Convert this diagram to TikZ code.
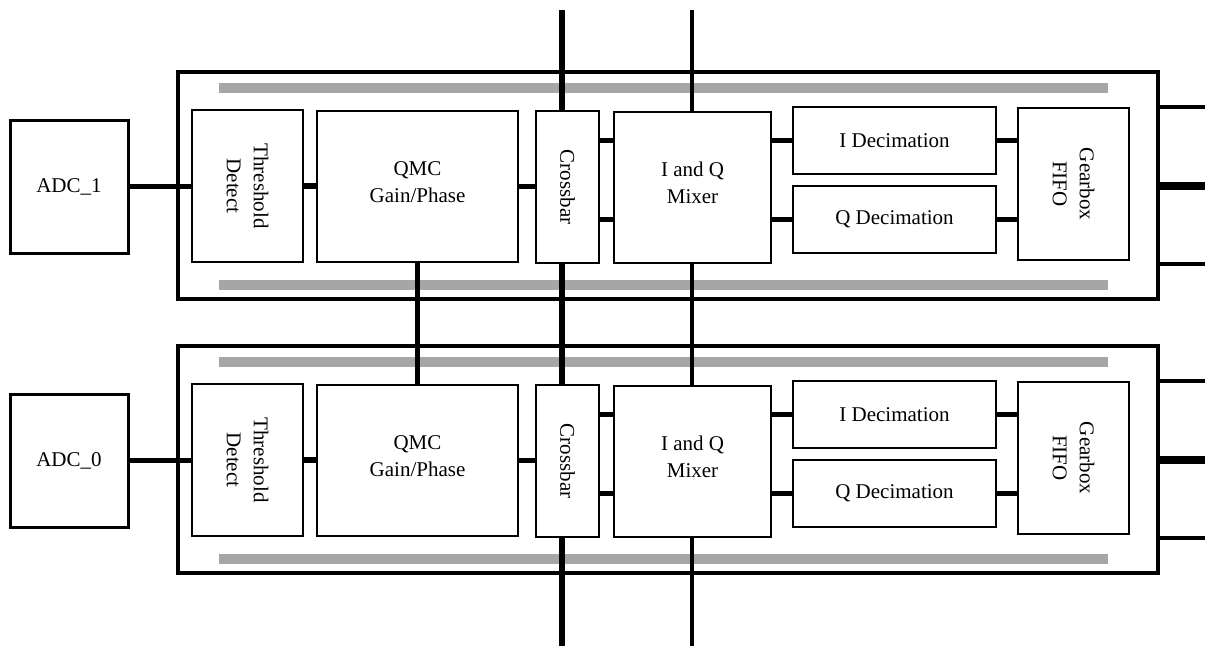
\documentclass[tikz,border=0pt]{standalone}
\usepackage{fontspec}
\setmainfont{Liberation Serif}
\definecolor{barcol}{RGB}{166,166,166}
\begin{document}
\begin{tikzpicture}[x=1pt,y=-1pt,
  blk/.style={draw, line width=2pt, fill=white, align=center, inner sep=0pt,
    font=\fontsize{21}{26}\selectfont},
  adcbox/.style={blk, line width=3pt},
  lbl/.style={font=\fontsize{21}{27}\selectfont, align=center, inner sep=0pt},
  outerbox/.style={draw, line width=3.5pt, inner sep=0pt},
  wire/.style={line width=5.5pt},
  midwire/.style={line width=4.5pt},
  thinout/.style={line width=3.5pt},
  thickout/.style={line width=8pt},
  bar/.style={line width=10pt, draw=barcol},
  vwide/.style={line width=6pt},
  vthin/.style={line width=4pt},
]
\useasboundingbox (0,0) rectangle (1205,646);
% grey bars
\foreach \i/\dy in {1/0, 0/274} {
  \begin{scope}[shift={(0,\dy)}]
    \coordinate (bta\i) at (219,88);   \coordinate (btb\i) at (1108,88);
    \coordinate (bba\i) at (219,285);  \coordinate (bbb\i) at (1108,285);
    \draw[bar] (bta\i) -- (btb\i);
    \draw[bar] (bba\i) -- (bbb\i);
  \end{scope}
}
% vertical through lines
\coordinate (vxt) at (562,10);  \coordinate (vxb) at (562,646);
\coordinate (vmt) at (692,10);  \coordinate (vmb) at (692,646);
\draw[vwide] (vxt) -- (vxb);
\draw[vthin] (vmt) -- (vmb);
% channels
\foreach \i/\dy/\lab in {1/0/ADC\_1, 0/274/ADC\_0} {
  \begin{scope}[shift={(0,\dy)}]
    \node[outerbox, minimum width=980pt, minimum height=227pt] (outer\i) at (668,185.5) {};
    \node[adcbox, minimum width=118pt, minimum height=133pt] (adc\i) at (69,186.5) {\lab};
    \node[blk, minimum width=111pt, minimum height=152pt] (thr\i) at (247.5,186) {};
    \node[lbl, rotate=-90] (thrt\i) at (thr\i.center) {Threshold\\Detect};
    \node[blk, minimum width=201pt, minimum height=151pt] (qmc\i) at (417.5,186.5) {};
    \node[lbl, yshift=4pt] (qmct\i) at (qmc\i.center) {QMC\\Gain/Phase};
    \node[blk, minimum width=63pt, minimum height=152pt] (xb\i) at (567.5,187) {};
    \node[lbl, rotate=-90] (xbt\i) at (xb\i.center) {Crossbar};
    \node[blk, minimum width=157pt, minimum height=151pt] (mix\i) at (692.5,187.5) {};
    \node[lbl, yshift=5pt] (mixt\i) at (mix\i.center) {I and Q\\Mixer};
    \node[blk, minimum width=203pt, minimum height=67pt] (idec\i) at (894.5,140.5) {I Decimation};
    \node[blk, minimum width=203pt, minimum height=67pt] (qdec\i) at (894.5,219.5) {Q Decimation};
    \node[blk, minimum width=111pt, minimum height=152pt] (fifo\i) at (1073.5,184) {};
    \node[lbl, rotate=-90] (fifot\i) at (fifo\i.center) {Gearbox\\FIFO};
    % connectors
    \draw[wire] (adc\i.east) -- (adc\i.east -| thr\i.west);
    \draw[wire] (thr\i.east) -- (thr\i.east -| qmc\i.west);
    \draw[midwire] (qmc\i.east) -- (qmc\i.east -| xb\i.west);
    \draw[wire] (idec\i.west -| xb\i.east) -- (idec\i.west -| mix\i.west);
    \draw[wire] (qdec\i.west -| xb\i.east) -- (qdec\i.west -| mix\i.west);
    \draw[wire] (idec\i.west -| mix\i.east) -- (idec\i.west);
    \draw[wire] (qdec\i.west -| mix\i.east) -- (qdec\i.west);
    \draw[wire] (idec\i.east) -- (idec\i.east -| fifo\i.west);
    \draw[wire] (qdec\i.east) -- (qdec\i.east -| fifo\i.west);
    % outputs
    \coordinate (oa\i) at (1205,107);
    \coordinate (ob\i) at (1205,185.5);
    \coordinate (oc\i) at (1205,264);
    \draw[thinout] (oa\i -| outer\i.east) -- (oa\i);
    \draw[thickout] (ob\i -| outer\i.east) -- (ob\i);
    \draw[thinout] (oc\i -| outer\i.east) -- (oc\i);
  \end{scope}
}
\draw[wire] (qmc1.south) -- (qmc0.north);
\end{tikzpicture}
\end{document}
